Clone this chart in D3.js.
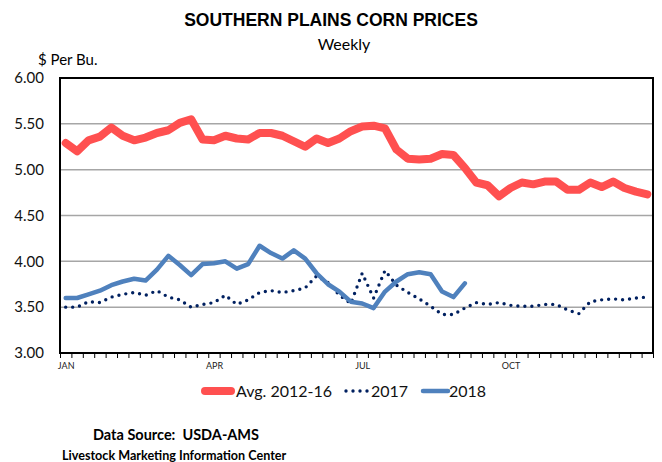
<!DOCTYPE html>
<html>
<head>
<meta charset="utf-8">
<script src="https://cdn.jsdelivr.net/npm/d3@7"></script>
<style>
  body { margin: 0; background: #fff; }
  svg { display: block; }
</style>
</head>
<body>
<div id="chart"></div>
<script>
// Weekly prices, $ per bushel (52 weeks)
const avg1216 = [5.29, 5.20, 5.32, 5.36, 5.46, 5.37, 5.32, 5.35, 5.40, 5.43,
                 5.51, 5.55, 5.33, 5.32, 5.37, 5.34, 5.33, 5.40, 5.40, 5.37,
                 5.31, 5.25, 5.34, 5.29, 5.34, 5.42, 5.47, 5.48, 5.45, 5.22,
                 5.12, 5.11, 5.12, 5.17, 5.16, 5.02, 4.86, 4.83, 4.71, 4.80,
                 4.86, 4.84, 4.87, 4.87, 4.78, 4.78, 4.86, 4.81, 4.87, 4.80,
                 4.76, 4.73];
const prices2017 = [3.50, 3.50, 3.56, 3.55, 3.61, 3.64, 3.66, 3.63, 3.68, 3.61,
                    3.58, 3.50, 3.53, 3.55, 3.63, 3.53, 3.58, 3.66, 3.68, 3.66,
                    3.68, 3.71, 3.84, 3.77, 3.63, 3.54, 3.87, 3.60, 3.90, 3.74,
                    3.66, 3.59, 3.51, 3.42, 3.42, 3.49, 3.55, 3.53, 3.55, 3.52,
                    3.51, 3.51, 3.53, 3.53, 3.47, 3.43, 3.56, 3.58, 3.59, 3.58,
                    3.60, 3.61];
const prices2018 = [3.60, 3.60, 3.64, 3.68, 3.74, 3.78, 3.81, 3.79, 3.91, 4.06,
                    3.96, 3.85, 3.97, 3.98, 4.00, 3.92, 3.97, 4.17, 4.09, 4.03,
                    4.12, 4.03, 3.87, 3.75, 3.67, 3.56, 3.54, 3.49, 3.67, 3.78,
                    3.86, 3.88, 3.86, 3.67, 3.61, 3.76];
const monthLabels = ["JAN", "APR", "JUL", "OCT"];
const monthWeeks = [0, 13, 26, 39];
const yTicks = [3.0, 3.5, 4.0, 4.5, 5.0, 5.5, 6.0];

const width = 662, height = 462;
const margin = { top: 78, right: 9, bottom: 109, left: 60 };
const plotW = width - margin.left - margin.right;
const plotH = height - margin.top - margin.bottom;

const svg = d3.select("#chart")
  .append("svg")
  .attr("width", width)
  .attr("height", height);

// Title block
svg.append("text")
  .attr("x", 331).attr("y", 26)
  .attr("text-anchor", "middle")
  .style("font-family", "Liberation Sans, Arial, sans-serif")
  .style("font-weight", "bold")
  .style("font-size", "17.5px")
  .text("SOUTHERN PLAINS CORN PRICES");

svg.append("text")
  .attr("x", 344).attr("y", 50)
  .attr("text-anchor", "middle")
  .style("font-family", "Lato, sans-serif")
  .style("font-size", "16px")
  .text("Weekly");

svg.append("text")
  .attr("x", 38).attr("y", 65)
  .style("font-family", "Lato, sans-serif")
  .style("font-size", "15px")
  .text("$ Per Bu.");

const g = svg.append("g")
  .attr("transform", `translate(${margin.left}, ${margin.top})`);

// Scales
const x = d3.scaleLinear().domain([0, 52]).range([0, plotW]);
const y = d3.scaleLinear().domain([3, 6]).range([plotH, 0]);

// Gridlines
g.append("g")
  .selectAll("line")
  .data(yTicks.filter(d => d > 3 && d < 6))
  .join("line")
  .attr("x1", 0).attr("x2", plotW)
  .attr("y1", d => y(d)).attr("y2", d => y(d))
  .attr("stroke", "#a6a6a6")
  .attr("stroke-width", 1.5);

// Y axis labels
const yAxis = g.append("g")
  .call(d3.axisLeft(y).tickValues(yTicks).tickSize(0).tickPadding(16).tickFormat(d3.format(".2f")));
yAxis.select(".domain").remove();
yAxis.selectAll("text")
  .style("font-family", "Lato, sans-serif")
  .style("font-size", "15px")
  .attr("fill", "#111");

// X axis tick marks (week boundaries)
const xAxis = g.append("g")
  .attr("transform", `translate(0, ${plotH})`)
  .call(d3.axisBottom(x).tickValues(d3.range(53)).tickSize(5).tickFormat(""));
xAxis.select(".domain").remove();
xAxis.selectAll("line").attr("stroke", "#000");

// Month labels
const mAxis = g.append("g")
  .attr("transform", `translate(0, ${plotH})`)
  .call(d3.axisBottom(x)
    .tickValues(monthWeeks.map(w => w + 0.5))
    .tickSize(0).tickPadding(10)
    .tickFormat((d, i) => monthLabels[i]));
mAxis.select(".domain").remove();
mAxis.selectAll("text")
  .style("font-family", "Lato, sans-serif")
  .style("font-size", "9px")
  .attr("fill", "#222");

// Lines
const line = d3.line()
  .x((d, i) => x(i + 0.5))
  .y(d => y(d));

g.append("path")
  .datum(avg1216)
  .attr("fill", "none")
  .attr("stroke", "#ff5050")
  .attr("stroke-width", 8)
  .attr("stroke-linejoin", "round")
  .attr("stroke-linecap", "round")
  .attr("d", line);

g.append("path")
  .datum(prices2017)
  .attr("fill", "none")
  .attr("stroke", "#002060")
  .attr("stroke-width", 3.4)
  .attr("stroke-linecap", "round")
  .attr("stroke-dasharray", "0,7")
  .attr("d", line);

g.append("path")
  .datum(prices2018)
  .attr("fill", "none")
  .attr("stroke", "#4f81bd")
  .attr("stroke-width", 4.5)
  .attr("stroke-linejoin", "round")
  .attr("stroke-linecap", "round")
  .attr("d", line);

// Plot border
g.append("rect")
  .attr("x", 0).attr("y", 0)
  .attr("width", plotW).attr("height", plotH)
  .attr("fill", "none")
  .attr("stroke", "#000")
  .attr("stroke-width", 2);

// Legend
const legendY = 391;
const legend = svg.append("g");
legend.append("line")
  .attr("x1", 205).attr("x2", 231).attr("y1", legendY).attr("y2", legendY)
  .attr("stroke", "#ff5050").attr("stroke-width", 8).attr("stroke-linecap", "round");
legend.append("text")
  .attr("x", 236).attr("y", legendY + 6)
  .text("Avg. 2012-16");
legend.append("line")
  .attr("x1", 346).attr("x2", 369).attr("y1", legendY).attr("y2", legendY)
  .attr("stroke", "#002060").attr("stroke-width", 3.4)
  .attr("stroke-linecap", "round").attr("stroke-dasharray", "0,7");
legend.append("text")
  .attr("x", 371).attr("y", legendY + 6)
  .text("2017");
legend.append("line")
  .attr("x1", 423).attr("x2", 448).attr("y1", legendY).attr("y2", legendY)
  .attr("stroke", "#4f81bd").attr("stroke-width", 4.5).attr("stroke-linecap", "round");
legend.append("text")
  .attr("x", 449).attr("y", legendY + 6)
  .text("2018");
legend.selectAll("text")
  .style("font-family", "Lato, sans-serif")
  .style("font-size", "16px")
  .attr("fill", "#111");

// Footnotes
svg.append("text")
  .attr("x", 93).attr("y", 440)
  .style("font-family", "Lato, sans-serif")
  .style("font-weight", "bold")
  .style("font-size", "14.5px")
  .style("white-space", "pre")
  .text("Data Source:  USDA-AMS");

svg.append("text")
  .attr("x", 62).attr("y", 460)
  .style("font-family", "Lato, sans-serif")
  .style("font-weight", "bold")
  .style("font-size", "12.6px")
  .text("Livestock Marketing Information Center");
</script>
</body>
</html>
